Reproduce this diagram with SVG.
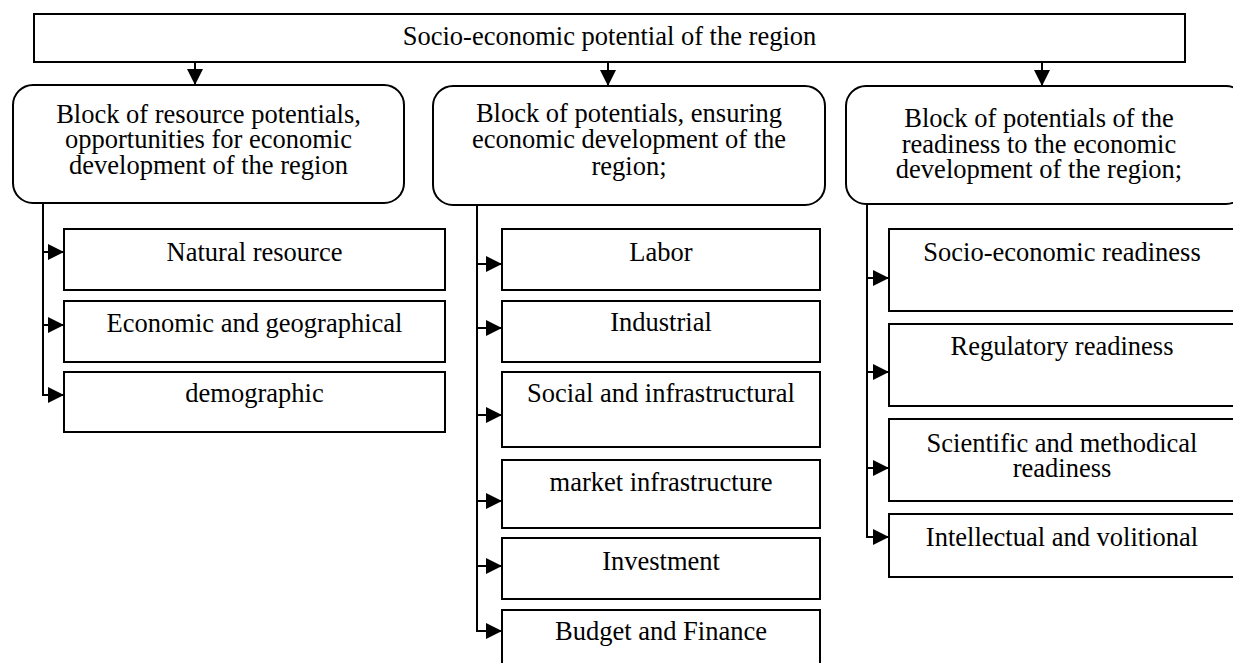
<svg xmlns="http://www.w3.org/2000/svg" width="1233" height="663" viewBox="0 0 1233 663">
<defs>
<style>
.box{fill:#fff;stroke:#000;stroke-width:2}
.t{font-family:"Liberation Serif","Times New Roman",serif;font-size:26.5px;fill:#000;text-anchor:middle}
.c{fill:none;stroke:#000;stroke-width:2}
.a{fill:none;stroke:#000;stroke-width:2;marker-end:url(#ah)}
</style>
<marker id="ah" viewBox="0 0 16 16" refX="16" refY="8" markerWidth="16" markerHeight="16" markerUnits="userSpaceOnUse" orient="auto">
<path d="M0,0 L16,8 L0,16 Z" fill="#000"/>
</marker>
</defs>
<rect width="1233" height="663" fill="#fff"/>

<g id="connectors">
<line class="a" x1="195" y1="62" x2="195" y2="85"/>
<line class="a" x1="608" y1="62" x2="608" y2="86"/>
<line class="a" x1="1042" y1="62" x2="1042" y2="86"/>
<line class="c" x1="43" y1="203" x2="43" y2="396"/>
<line class="a" x1="42" y1="252" x2="64" y2="252"/>
<line class="a" x1="42" y1="325" x2="64" y2="325"/>
<line class="a" x1="42" y1="395" x2="64" y2="395"/>
<line class="c" x1="477" y1="205" x2="477" y2="632"/>
<line class="a" x1="476" y1="264" x2="502" y2="264"/>
<line class="a" x1="476" y1="328" x2="502" y2="328"/>
<line class="a" x1="476" y1="415" x2="502" y2="415"/>
<line class="a" x1="476" y1="501" x2="502" y2="501"/>
<line class="a" x1="476" y1="566" x2="502" y2="566"/>
<line class="a" x1="476" y1="631" x2="502" y2="631"/>
<line class="c" x1="867" y1="204" x2="867" y2="538"/>
<line class="a" x1="866" y1="278" x2="889" y2="278"/>
<line class="a" x1="866" y1="372" x2="889" y2="372"/>
<line class="a" x1="866" y1="468" x2="889" y2="468"/>
<line class="a" x1="866" y1="537" x2="889" y2="537"/>
</g>

<g id="top">
<rect class="box" x="34" y="14" width="1151" height="48"/>
<text class="t" x="609.5" y="45">Socio-economic potential of the region</text>
</g>

<g id="block1">
<rect class="box" x="13" y="85" width="391" height="118" rx="20" ry="20"/>
<text class="t" x="208.5" y="123">Block of resource potentials,</text>
<text class="t" x="208.5" y="148">opportunities for economic</text>
<text class="t" x="208.5" y="174">development of the region</text>
</g>
<g id="block2">
<rect class="box" x="433" y="86" width="392" height="119" rx="20" ry="20"/>
<text class="t" x="629" y="122">Block of potentials, ensuring</text>
<text class="t" x="629" y="148">economic development of the</text>
<text class="t" x="629" y="175">region;</text>
</g>
<g id="block3">
<rect class="box" x="846" y="86" width="400" height="118" rx="20" ry="20"/>
<text class="t" x="1039" y="127">Block of potentials of the</text>
<text class="t" x="1039" y="153">readiness to the economic</text>
<text class="t" x="1039" y="178">development of the region;</text>
</g>

<g id="natural">
<rect class="box" x="64" y="229" width="381" height="61"/>
<text class="t" x="254.5" y="261">Natural resource</text>
</g>
<g id="econgeo">
<rect class="box" x="64" y="301" width="381" height="61"/>
<text class="t" x="254.5" y="332">Economic and geographical</text>
</g>
<g id="demographic">
<rect class="box" x="64" y="372" width="381" height="60"/>
<text class="t" x="254.5" y="402">demographic</text>
</g>

<g id="labor">
<rect class="box" x="502" y="229" width="318" height="61"/>
<text class="t" x="661" y="261">Labor</text>
</g>
<g id="industrial">
<rect class="box" x="502" y="301" width="318" height="61"/>
<text class="t" x="661" y="331">Industrial</text>
</g>
<g id="social">
<rect class="box" x="502" y="372" width="318" height="75"/>
<text class="t" x="661" y="402">Social and infrastructural</text>
</g>
<g id="market">
<rect class="box" x="502" y="460" width="318" height="68"/>
<text class="t" x="661" y="491">market infrastructure</text>
</g>
<g id="investment">
<rect class="box" x="502" y="538" width="318" height="61"/>
<text class="t" x="661" y="570">Investment</text>
</g>
<g id="budget">
<rect class="box" x="502" y="610" width="318" height="70"/>
<text class="t" x="661" y="640">Budget and Finance</text>
</g>

<g id="socioeco">
<rect class="box" x="889" y="229" width="360" height="82"/>
<text class="t" x="1062" y="261">Socio-economic readiness</text>
</g>
<g id="regulatory">
<rect class="box" x="889" y="324" width="360" height="82"/>
<text class="t" x="1062" y="355">Regulatory readiness</text>
</g>
<g id="scientific">
<rect class="box" x="889" y="419" width="360" height="82"/>
<text class="t" x="1062" y="452">Scientific and methodical</text>
<text class="t" x="1062" y="477">readiness</text>
</g>
<g id="intellectual">
<rect class="box" x="889" y="514" width="360" height="63"/>
<text class="t" x="1062" y="546">Intellectual and volitional</text>
</g>
</svg>
